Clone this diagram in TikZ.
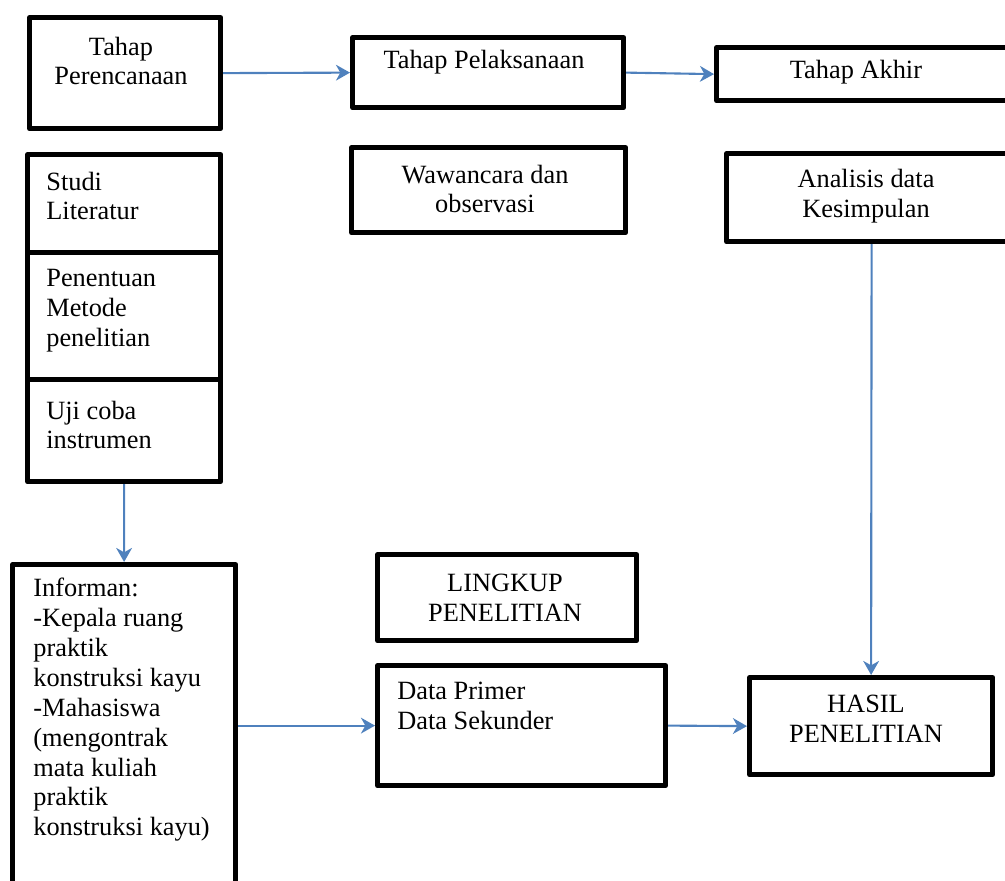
\documentclass[tikz,border=0pt]{standalone}
\usepackage{fontspec}
\setmainfont{Liberation Serif}
\usetikzlibrary{arrows.meta}
\definecolor{wordblue}{HTML}{4F81BD}
\begin{document}
\begin{tikzpicture}[x=0.02cm,y=-0.02cm,
    box/.style = {draw,line width=3pt,line join=round,anchor=north west,inner sep=0pt},
    txt/.style = {inner sep=0pt,font=\fontsize{15}{17}\selectfont},
    arr/.style = {wordblue,line width=1.2pt,-{Stealth[length=8pt,width=9pt,inset=2.5pt]}}]

        \useasboundingbox (0,0) rectangle (1005,881);

        % Stages
        \node [box,minimum width=3.82cm,minimum height=2.22cm] (plan) at (27,15){};
        \node [box,minimum width=5.42cm,minimum height=1.40cm] (exec) at (350,35){};
        \node [box,minimum width=5.96cm,minimum height=1.06cm] (final) at (714,45){};
        \node [txt,align=center] (plantxt) at (121,61) {Tahap\\Perencanaan};
        \node [txt] (exectxt) at (484,62) {Tahap Pelaksanaan};
        \node [txt] (finaltxt) at (856,72) {Tahap Akhir};

        % Planning steps
        \node [box,minimum width=3.86cm,minimum height=1.96cm] (studi) at (25,152){};
        \node [box,minimum width=3.86cm,minimum height=2.54cm] (metode) at (25,250){};
        \node [box,minimum width=3.86cm,minimum height=2.04cm] (uji) at (25,377){};
        \node [txt,align=left,anchor=west] (studitxt) at (46,196) {Studi\\Literatur};
        \node [txt,align=left,anchor=west] (metodetxt) at (46,311) {Penentuan\\Metode\\penelitian};
        \node [txt,align=left,anchor=west] (ujitxt) at (46,425) {Uji coba\\instrumen};

        % Execution and final steps
        \node [box,minimum width=5.48cm,minimum height=1.70cm] (wawan) at (349,145){};
        \node [box,minimum width=5.80cm,minimum height=1.76cm] (analisis) at (724,151){};
        \node [txt,align=center] (wawantxt) at (485,189) {Wawancara dan\\observasi};
        \node [txt,align=center] (analisistxt) at (866,196) {Analisis data\\Kesimpulan};

        % Scope of research
        \node [box,minimum width=4.46cm,minimum height=6.80cm] (informan) at (10,562){};
        \node [box,minimum width=5.18cm,minimum height=1.72cm] (lingkup) at (375,552){};
        \node [box,minimum width=5.76cm,minimum height=2.40cm] (data) at (375,663){};
        \node [box,minimum width=4.86cm,minimum height=1.94cm] (hasil) at (747,675){};
        \node [txt,align=left,anchor=north west] (informantxt) at (33,578) {Informan:\\-Kepala ruang\\praktik\\konstruksi kayu\\-Mahasiswa\\(mengontrak\\mata kuliah\\praktik\\konstruksi kayu)};
        \node [txt,align=center] (lingkuptxt) at (505,598) {LINGKUP\\PENELITIAN};
        \node [txt,align=left,anchor=west] (datatxt) at (397,706) {Data Primer\\Data Sekunder};
        \node [txt,align=center] (hasiltxt) at (866,719) {HASIL\\PENELITIAN};

        % Arrows
        \draw [arr] (plan.east) -- (exec.west);
        \draw [arr] (exec.east) -- (final.west);
        \draw [arr] (uji.south) -- (informan.north);
        \draw [arr] (analisis.south) -- (hasil.north);
        \draw [arr] (informan.east |- data.west) -- (data.west);
        \draw [arr] (data.east) -- (hasil.west);

    \end{tikzpicture}
\end{document}
